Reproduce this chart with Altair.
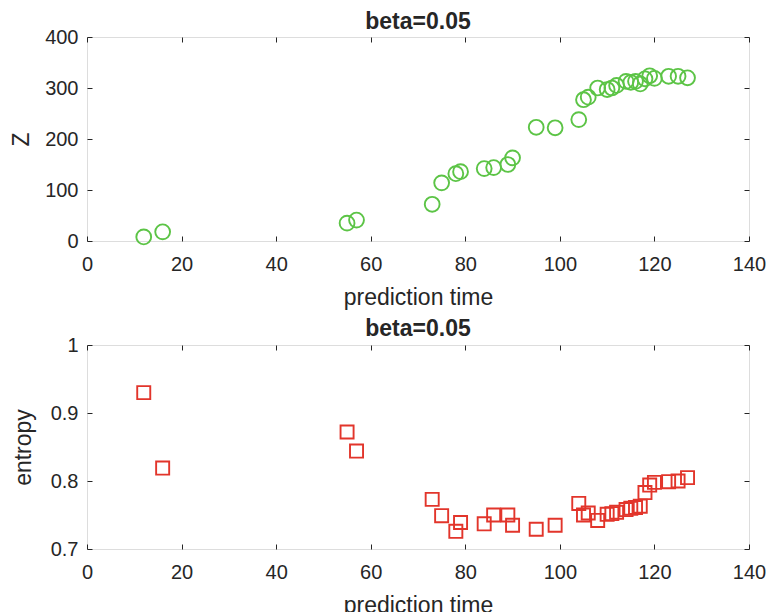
import altair as alt
import pandas as pd

# ---- data ----
time_top = [12, 16, 55, 57, 73, 75, 78, 79, 84, 86, 89, 90, 95, 99, 104, 105, 106,
            108, 110, 111, 112, 114, 115, 116, 117, 118, 119, 120, 123, 125, 127]
z_values = [8, 18, 35, 41, 72, 114, 132, 136, 142, 144, 150, 163, 223, 222, 238, 277, 282,
            300, 297, 300, 305, 313, 311, 313, 308, 318, 324, 319, 323, 323, 320]

time_bottom = time_top
entropy_values = [0.930, 0.819, 0.872, 0.844, 0.773, 0.749, 0.726, 0.739, 0.737, 0.750, 0.750,
                  0.735, 0.729, 0.735, 0.767, 0.750, 0.753, 0.742, 0.751, 0.752, 0.754, 0.758,
                  0.760, 0.761, 0.763, 0.783, 0.794, 0.798, 0.799, 0.800, 0.805]

x_ticks = [0, 20, 40, 60, 80, 100, 120, 140]
z_ticks = [0, 100, 200, 300, 400]
e_ticks = [0.7, 0.8, 0.9, 1.0]

title_text = "beta=0.05"
x_title = "prediction time"

FONT = "Liberation Sans"
INK = "#262626"
GREEN = "#5cc446"
RED = "#e2352b"
W, H = 662, 204
TICK = 5


def main_axis(orient, values, title, fmt=None, title_pad=15, label_pad=9):
    kw = dict(orient=orient, values=values, title=title, offset=-TICK, tickSize=TICK,
              domain=False, grid=False, tickColor=INK, tickWidth=1,
              labelFont=FONT, labelFontSize=20, labelColor=INK, labelPadding=label_pad,
              labelFlush=False, labelOverlap=False,
              titleFont=FONT, titleFontSize=23, titleFontWeight="normal", titleColor=INK,
              titlePadding=title_pad)
    if fmt:
        kw["format"] = fmt
    return alt.Axis(**kw)


def tick_axis(orient, values):
    return alt.Axis(orient=orient, values=values, title=None, labels=False, offset=-TICK,
                    tickSize=TICK, domain=False, grid=False, tickColor=INK, tickWidth=1)


def panel(df, ycol, ydomain, yticks, ytitle, shape, color, size, fmt=None, ytitle_pad=15,
          title_offset=-6):
    xs = alt.Scale(domain=[0, 140], nice=False, zero=False)
    ys = alt.Scale(domain=ydomain, nice=False, zero=False)
    pts = alt.Chart(df).mark_point(shape=shape, filled=False, color=color,
                                   strokeWidth=1.9, size=size, opacity=1).encode(
        x=alt.X("t:Q", scale=xs,
                axis=main_axis("bottom", x_ticks, x_title, title_pad=12, label_pad=13)),
        y=alt.Y(f"{ycol}:Q", scale=ys, axis=main_axis("left", yticks, ytitle, fmt, ytitle_pad)),
    )
    ghost = alt.Chart(df).mark_point(opacity=0).encode(
        x=alt.X("t:Q", scale=xs, axis=tick_axis("top", x_ticks)),
        y=alt.Y(f"{ycol}:Q", scale=ys, axis=tick_axis("right", yticks)),
    )
    return alt.layer(pts, ghost).resolve_axis(x="independent", y="independent").properties(
        width=W, height=H,
        title=alt.TitleParams(title_text, font=FONT, fontSize=23, fontWeight="bold",
                              color=INK, offset=title_offset, anchor="middle"),
    )


df_top = pd.DataFrame({"t": time_top, "Z": z_values})
df_bot = pd.DataFrame({"t": time_bottom, "entropy": entropy_values})

top = panel(df_top, "Z", [0, 400], z_ticks, "Z", "circle", GREEN, 220,
            ytitle_pad=11, title_offset=-7)
bottom = panel(df_bot, "entropy", [0.7, 1.0], e_ticks, "entropy", "square", RED, 170,
               fmt="~g", ytitle_pad=15, title_offset=-6)

chart = alt.vconcat(top, bottom, spacing=7).properties(
    padding={"left": 2, "top": 2, "right": 0, "bottom": 0}
).configure_view(stroke=INK, strokeWidth=1.2).configure(background="white")

chart.save("out.html", embed_options={"renderer": "svg", "actions": False})
